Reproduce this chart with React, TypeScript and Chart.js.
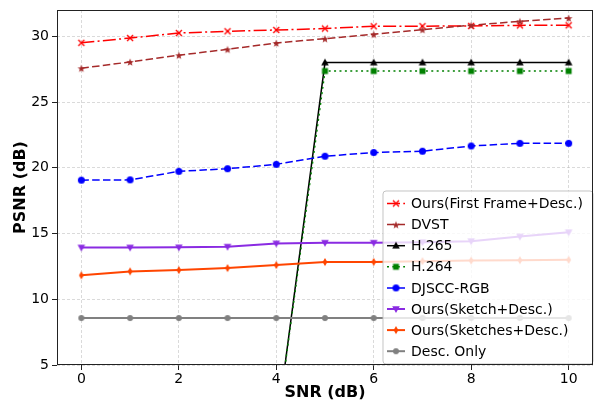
import React, { useEffect, useRef } from 'react';
import { Chart, registerables } from 'chart.js';

Chart.register(...registerables);

const FONT = "'DejaVu Sans', sans-serif";

const snr = [0, 1, 2, 3, 4, 5, 6, 7, 8, 9, 10];
const xTickStep = 2;
const yTickStep = 5;

const oursFirstFrame = [29.5, 29.87, 30.25, 30.38, 30.48, 30.59, 30.76, 30.77, 30.79, 30.83, 30.84];
const dvst = [27.57, 28.05, 28.56, 29.01, 29.49, 29.82, 30.15, 30.51, 30.84, 31.14, 31.39];
const h265 = [0, 0, 0, 0, 0, 28.0, 28.0, 28.0, 28.0, 28.0, 28.0];
const h264 = [0, 0, 0, 0, 0, 27.36, 27.36, 27.36, 27.36, 27.36, 27.36];
const djsccRgb = [19.06, 19.08, 19.73, 19.93, 20.26, 20.88, 21.16, 21.26, 21.66, 21.86, 21.86];
const oursSketch = [13.94, 13.94, 13.95, 14.0, 14.25, 14.3, 14.3, 14.34, 14.42, 14.77, 15.1];
const oursSketches = [11.82, 12.12, 12.22, 12.37, 12.6, 12.83, 12.84, 12.9, 12.94, 12.97, 13.0];
const descOnly = [8.57, 8.57, 8.57, 8.57, 8.57, 8.57, 8.57, 8.57, 8.57, 8.57, 8.57];

const seriesLabels = [
  'Ours(First Frame+Desc.)',
  'DVST',
  'H.265',
  'H.264',
  'DJSCC-RGB',
  'Ours(Sketch+Desc.)',
  'Ours(Sketches+Desc.)',
  'Desc. Only',
];

function makeMarker(kind: string, color: string, size: number): HTMLCanvasElement {
  const pad = 2;
  const dim = Math.ceil(size + pad * 2);
  const c = document.createElement('canvas');
  c.width = dim;
  c.height = dim;
  const ctx = c.getContext('2d') as CanvasRenderingContext2D;
  const cx = dim / 2;
  const cy = dim / 2;
  const r = size / 2;
  ctx.fillStyle = color;
  ctx.strokeStyle = color;
  ctx.lineWidth = 1;
  ctx.beginPath();
  switch (kind) {
    case 'x':
      ctx.lineWidth = 1.4;
      ctx.moveTo(cx - r, cy - r);
      ctx.lineTo(cx + r, cy + r);
      ctx.moveTo(cx + r, cy - r);
      ctx.lineTo(cx - r, cy + r);
      ctx.stroke();
      break;
    case 'star': {
      for (let i = 0; i < 10; i++) {
        const rr = i % 2 === 0 ? r : r * 0.42;
        const a = -Math.PI / 2 + (i * Math.PI) / 5;
        const px = cx + rr * Math.cos(a);
        const py = cy + rr * Math.sin(a) + 0.5;
        if (i === 0) ctx.moveTo(px, py);
        else ctx.lineTo(px, py);
      }
      ctx.closePath();
      ctx.fill();
      break;
    }
    case 'triUp':
      ctx.moveTo(cx, cy - r);
      ctx.lineTo(cx + r * 0.95, cy + r * 0.7);
      ctx.lineTo(cx - r * 0.95, cy + r * 0.7);
      ctx.closePath();
      ctx.fill();
      break;
    case 'triDown':
      ctx.moveTo(cx, cy + r);
      ctx.lineTo(cx + r * 0.95, cy - r * 0.7);
      ctx.lineTo(cx - r * 0.95, cy - r * 0.7);
      ctx.closePath();
      ctx.fill();
      break;
    case 'square':
      ctx.fillRect(cx - r * 0.85, cy - r * 0.85, r * 1.7, r * 1.7);
      break;
    case 'circle':
      ctx.arc(cx, cy, r, 0, Math.PI * 2);
      ctx.fill();
      break;
    case 'thinDiamond':
      ctx.moveTo(cx, cy - r);
      ctx.lineTo(cx + r * 0.6, cy);
      ctx.lineTo(cx, cy + r);
      ctx.lineTo(cx - r * 0.6, cy);
      ctx.closePath();
      ctx.fill();
      break;
  }
  return c;
}

const frameAndLegend = {
  id: 'frameAndLegend',
  afterDatasetsDraw(chart: any) {
    const { ctx, chartArea } = chart;
    const w = 210;
    const h = 173;
    const x0 = chartArea.right - w;
    const y0 = chartArea.bottom - h - 1;
    ctx.save();
    ctx.beginPath();
    const rad = 3;
    ctx.moveTo(x0 + rad, y0);
    ctx.lineTo(x0 + w - rad, y0);
    ctx.arcTo(x0 + w, y0, x0 + w, y0 + rad, rad);
    ctx.lineTo(x0 + w, y0 + h - rad);
    ctx.arcTo(x0 + w, y0 + h, x0 + w - rad, y0 + h, rad);
    ctx.lineTo(x0 + rad, y0 + h);
    ctx.arcTo(x0, y0 + h, x0, y0 + h - rad, rad);
    ctx.lineTo(x0, y0 + rad);
    ctx.arcTo(x0, y0, x0 + rad, y0, rad);
    ctx.closePath();
    ctx.fillStyle = 'rgba(255,255,255,0.8)';
    ctx.fill();
    ctx.strokeStyle = 'rgba(190,190,190,0.9)';
    ctx.lineWidth = 1;
    ctx.stroke();

    chart.data.datasets.forEach((ds: any, i: number) => {
      const cy = y0 + 12.5 + i * 21.1;
      ctx.save();
      ctx.setLineDash(ds.legendDash || []);
      ctx.lineWidth = ds.borderWidth;
      ctx.strokeStyle = ds.borderColor;
      ctx.beginPath();
      ctx.moveTo(x0 + 4, cy);
      ctx.lineTo(x0 + 22, cy);
      ctx.stroke();
      ctx.restore();
      const img = ds.pointStyle as HTMLCanvasElement;
      ctx.drawImage(img, x0 + 13 - img.width / 2, cy - img.height / 2);
      ctx.fillStyle = '#000';
      ctx.font = `14px ${FONT}`;
      ctx.textAlign = 'left';
      ctx.textBaseline = 'middle';
      ctx.fillText(ds.label, x0 + 28, cy + 1);
    });
    ctx.restore();
  },
  afterDraw(chart: any) {
    const { ctx, chartArea } = chart;
    ctx.save();
    ctx.strokeStyle = '#222';
    ctx.lineWidth = 1;
    ctx.strokeRect(
      Math.round(chartArea.left) + 0.5,
      Math.round(chartArea.top) + 0.5,
      Math.round(chartArea.right - chartArea.left) - 1,
      Math.round(chartArea.bottom - chartArea.top) - 1
    );
    ctx.restore();
  },
};

export default function App() {
  const ref = useRef<HTMLCanvasElement | null>(null);

  useEffect(() => {
    if (!ref.current) return;
    const toPts = (vals: number[]) => snr.map((x, i) => ({ x, y: vals[i] }));
    const specs = [
      { vals: oursFirstFrame, color: '#ff0000', dash: [13, 3.3, 2, 3.3], width: 1.5, marker: makeMarker('x', '#ff0000', 6) },
      { vals: dvst, color: '#a52a2a', dash: [7.5, 3.3], width: 1.5, marker: makeMarker('star', '#a52a2a', 8) },
      { vals: h265, color: '#000000', dash: [], width: 1.5, marker: makeMarker('triUp', '#000000', 8) },
      { vals: h264, color: '#008000', dash: [2, 3.4], width: 1.5, marker: makeMarker('square', '#008000', 7) },
      { vals: djsccRgb, color: '#0000ff', dash: [7.5, 3.3], width: 1.5, marker: makeMarker('circle', '#0000ff', 7) },
      { vals: oursSketch, color: '#8a2be2', dash: [], width: 2, marker: makeMarker('triDown', '#8a2be2', 8) },
      { vals: oursSketches, color: '#ff4500', dash: [], width: 2, marker: makeMarker('thinDiamond', '#ff4500', 8) },
      { vals: descOnly, color: '#808080', dash: [], width: 2, marker: makeMarker('circle', '#808080', 6) },
    ];
    const datasets = specs.map((s, i) => ({
      label: seriesLabels[i],
      data: toPts(s.vals),
      borderColor: s.color,
      backgroundColor: s.color,
      borderWidth: s.width,
      borderDash: s.dash,
      legendDash: s.dash,
      pointStyle: s.marker,
      pointRadius: 4,
      tension: 0,
      order: -i,
    }));

    const chart = new Chart(ref.current, {
      type: 'line',
      data: { datasets } as any,
      options: {
        responsive: false,
        animation: false,
        devicePixelRatio: 1,
        layout: { autoPadding: false, padding: { left: 0, right: 2, top: 10, bottom: 0 } },
        plugins: { legend: { display: false }, tooltip: { enabled: false } },
        scales: {
          x: {
            type: 'linear',
            min: -0.5,
            max: 10.5,
            afterFit: (s: any) => {
              s.height = 37;
              s.paddingLeft = 0;
              s.paddingRight = 0;
            },
            ticks: {
              stepSize: xTickStep,
              includeBounds: false,
              color: '#000',
              font: { family: FONT, size: 14 },
              padding: 1,
              maxRotation: 0,
            },
            grid: {
              color: 'rgba(176,176,176,0.6)',
              lineWidth: 0.8,
              tickColor: '#222',
              tickLength: 5,
              tickBorderDash: [],
              tickWidth: 1,
            },
            border: { display: false, dash: [3, 2] },
            title: {
              display: true,
              text: 'SNR (dB)',
              color: '#000',
              font: { family: FONT, size: 16, weight: 'bold' },
              padding: { top: 0, bottom: 0 },
            },
          },
          y: {
            type: 'linear',
            min: 5,
            max: 32,
            afterFit: (s: any) => {
              s.width = 57;
              s.paddingTop = 0;
              s.paddingBottom = 0;
            },
            ticks: {
              stepSize: yTickStep,
              includeBounds: false,
              color: '#000',
              font: { family: FONT, size: 14 },
              padding: 3,
            },
            grid: {
              color: 'rgba(176,176,176,0.6)',
              lineWidth: 0.8,
              tickColor: '#222',
              tickLength: 5,
              tickBorderDash: [],
              tickWidth: 1,
            },
            border: { display: false, dash: [3, 2] },
            title: {
              display: true,
              text: 'PSNR (dB)',
              color: '#000',
              font: { family: FONT, size: 16, weight: 'bold' },
              padding: { top: 11, bottom: 0 },
            },
          },
        },
      } as any,
      plugins: [frameAndLegend],
    });
    return () => chart.destroy();
  }, []);

  return (
    <div style={{ position: 'fixed', left: 0, top: 0, width: 595, height: 402, background: '#fff' }}>
      <canvas ref={ref} width={595} height={402} />
    </div>
  );
}
